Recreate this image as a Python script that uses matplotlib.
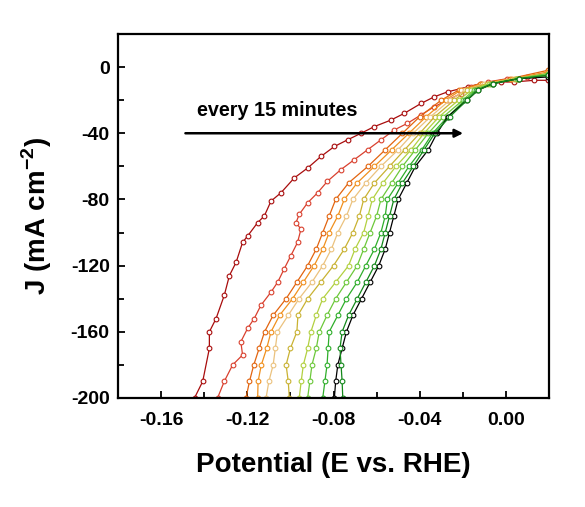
import matplotlib
matplotlib.use("Agg")
import matplotlib.pyplot as plt
from matplotlib.ticker import MultipleLocator, FormatStrFormatter

plt.rcParams['font.family'] = ['Liberation Sans', 'DejaVu Sans']
plt.rcParams['mathtext.fontset'] = 'custom'
plt.rcParams['mathtext.rm'] = 'Liberation Sans:bold'
plt.rcParams['mathtext.bf'] = 'Liberation Sans:bold'

# ---- data ----
# curve 1 (dark red) and curve 2 (red): detailed reading
E1 = [-0.1445, -0.1407, -0.1376, -0.1376, -0.1345, -0.1307, -0.1283, -0.1252, -0.1222, -0.1198,
      -0.1152, -0.1121, -0.1090, -0.1044, -0.0982, -0.0920, -0.0858, -0.0796, -0.0735, -0.0672,
      -0.0611, -0.0533, -0.0472, -0.0394, -0.0333, -0.0271, -0.0178, -0.0116, -0.0023, 0.0038,
      0.0131, 0.0193]
J1 = [-200, -190, -170, -160, -152, -138, -126, -118, -106, -102,
      -94, -90, -81, -76, -67, -61, -54, -48, -44, -40,
      -36, -32, -28, -22, -18, -15, -12, -10, -9, -9,
      -8, -8]

E2 = [-0.1338, -0.1307, -0.1268, -0.1222, -0.1230, -0.1199, -0.1168, -0.1137, -0.1090, -0.1059,
      -0.1029, -0.0998, -0.0967, -0.0951, -0.0974, -0.0959, -0.0920, -0.0874, -0.0828, -0.0766,
      -0.0704, -0.0642, -0.0580, -0.0518, -0.0457, -0.0395, -0.0333, -0.0271, -0.0209, -0.0163,
      -0.0085, 0.0007, 0.0100, 0.0193]
J2 = [-200, -190, -180, -174, -166, -158, -152, -144, -136, -130,
      -122, -114, -106, -98, -94, -89, -82, -76, -69, -62,
      -56, -50, -44, -38, -34, -29, -24, -20, -16, -12,
      -9, -7, -6, -5]

# remaining curves on a common current grid (last point: per-curve end current)
J_grid = [-200, -190, -180, -170, -160, -150, -140, -130, -120, -110, -100, -90,
          -80, -70, -60, -50, -40, -30, -20, -14, -10, -7]
J_end = [-2, -3, -4, -4, -5, -4, -5, -6, -5]
E_end = 0.0193
E3 = [-0.1206, -0.1190, -0.1170, -0.1145, -0.1120, -0.1080, -0.1020, -0.0970, -0.0920, -0.0880,
      -0.0850, -0.0820, -0.0790, -0.0730, -0.0640, -0.0560, -0.0480, -0.0400, -0.0300, -0.0220,
      -0.0120, 0.0020]
E4 = [-0.1152, -0.1150, -0.1135, -0.1110, -0.1090, -0.1050, -0.0990, -0.0940, -0.0890, -0.0850,
      -0.0820, -0.0780, -0.0750, -0.0690, -0.0610, -0.0530, -0.0450, -0.0370, -0.0280, -0.0210,
      -0.0110, 0.0030]
E5 = [-0.1113, -0.1100, -0.1080, -0.1070, -0.1060, -0.1010, -0.0960, -0.0900, -0.0850, -0.0810,
      -0.0780, -0.0740, -0.0710, -0.0650, -0.0580, -0.0500, -0.0430, -0.0350, -0.0260, -0.0190,
      -0.0100, 0.0040]
E6 = [-0.1005, -0.1010, -0.1020, -0.1000, -0.0970, -0.0965, -0.0920, -0.0860, -0.0800, -0.0750,
      -0.0710, -0.0680, -0.0660, -0.0610, -0.0540, -0.0470, -0.0400, -0.0330, -0.0240, -0.0180,
      -0.0090, 0.0040]
E7 = [-0.0959, -0.0950, -0.0940, -0.0920, -0.0905, -0.0880, -0.0850, -0.0790, -0.0730, -0.0700,
      -0.0660, -0.0640, -0.0620, -0.0570, -0.0510, -0.0440, -0.0380, -0.0310, -0.0220, -0.0160,
      -0.0080, 0.0050]
E8 = [-0.0920, -0.0910, -0.0900, -0.0880, -0.0866, -0.0830, -0.0790, -0.0740, -0.0690, -0.0660,
      -0.0630, -0.0600, -0.0580, -0.0530, -0.0480, -0.0420, -0.0360, -0.0290, -0.0200, -0.0150,
      -0.0070, 0.0050]
E9 = [-0.0850, -0.0840, -0.0830, -0.0825, -0.0820, -0.0780, -0.0740, -0.0690, -0.0650, -0.0610,
      -0.0580, -0.0560, -0.0550, -0.0500, -0.0450, -0.0390, -0.0340, -0.0270, -0.0190, -0.0140,
      -0.0060, 0.0060]
E10 = [-0.0796, -0.0790, -0.0780, -0.0760, -0.0740, -0.0710, -0.0670, -0.0630, -0.0590, -0.0560,
       -0.0540, -0.0520, -0.0500, -0.0460, -0.0420, -0.0360, -0.0320, -0.0270, -0.0180, -0.0130,
       -0.0060, 0.0060]
E11 = [-0.0757, -0.0760, -0.0765, -0.0770, -0.0760, -0.0730, -0.0690, -0.0650, -0.0610, -0.0580,
       -0.0560, -0.0540, -0.0520, -0.0480, -0.0430, -0.0380, -0.0330, -0.0260, -0.0180, -0.0130,
       -0.0060, 0.0060]

colors = ['#a80c0c', '#d9402e', '#e2640f', '#f0901e', '#ebc27e', '#c9b232',
          '#b2d040', '#6cc83a', '#2eae2a', '#000000', '#13881a']

grid_E = [E3, E4, E5, E6, E7, E8, E9, E10, E11]
series = [(E1, J1), (E2, J2)] + [(E + [E_end], J_grid + [je]) for E, je in zip(grid_E, J_end)]

annotation_text = "every 15 minutes"

# ---- figure ----
fig = plt.figure(figsize=(5.85, 5.07), dpi=100)
ax = fig.add_axes([0.2017, 0.215, 0.7368, 0.718])

for (E, J), c in zip(series, colors):
    ax.plot(E, J, color=c, lw=0.9, marker='o', ms=3.4, mfc='white', mec=c, mew=0.8)

ax.set_xlim(-0.18, 0.02)
ax.set_ylim(-200, 20)

ax.xaxis.set_major_locator(MultipleLocator(0.04))
ax.xaxis.set_minor_locator(MultipleLocator(0.02))
ax.yaxis.set_major_locator(MultipleLocator(40))
ax.yaxis.set_minor_locator(MultipleLocator(20))
ax.xaxis.set_major_formatter(FormatStrFormatter('%.2f'))
ax.yaxis.set_major_formatter(FormatStrFormatter('%d'))

ax.tick_params(which='both', direction='in', top=False, right=False, width=1.3)
ax.tick_params(which='major', length=5, labelsize=14)
ax.tick_params(which='minor', length=4)
ax.tick_params(axis='x', which='major', pad=10)
ax.tick_params(axis='y', which='major', pad=6)
for lab in ax.get_xticklabels() + ax.get_yticklabels():
    lab.set_fontweight('bold')
for s in ax.spines.values():
    s.set_linewidth(1.6)

ax.set_xlabel('Potential (E vs. RHE)', fontsize=20, fontweight='bold', labelpad=17)
ax.set_ylabel(r'J (mA cm$^{\mathrm{-2}}$)', fontsize=20, fontweight='bold', labelpad=12)

ax.annotate('', xy=(-0.0186, -40), xytext=(-0.150, -40),
            arrowprops=dict(arrowstyle='-|>', color='black', lw=1.8, mutation_scale=12))
ax.text(-0.1435, -26.5, annotation_text, fontsize=14.2, fontweight='bold', va='center', ha='left')

fig.savefig('out.png', dpi=100)
